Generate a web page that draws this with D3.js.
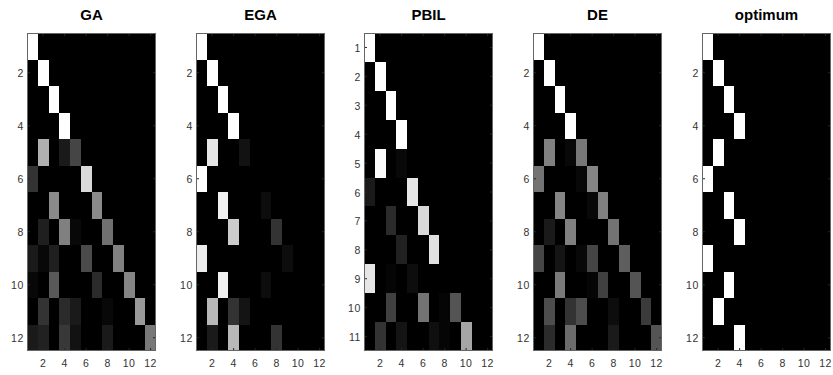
<!DOCTYPE html>
<html><head><meta charset="utf-8">
<script src="https://cdn.jsdelivr.net/npm/d3@7"></script>
<style>body{margin:0;background:#fff}svg{display:block}</style>
</head><body>
<script>
const titles = ["GA", "EGA", "PBIL", "DE", "optimum"];
const xTicks = [2, 4, 6, 8, 10, 12];
const yTicks12 = [2, 4, 6, 8, 10, 12];
const yTicks11 = [1, 2, 3, 4, 5, 6, 7, 8, 9, 10, 11];

const gaValues = [
  [1,0,0,0,0,0,0,0,0,0,0,0],
  [0,1,0,0,0,0,0,0,0,0,0,0],
  [0,0,1,0,0,0,0,0,0,0,0,0],
  [0,0,0,1,0,0,0,0,0,0,0,0],
  [0,0.69,0,0.1,0.27,0,0,0,0,0,0,0],
  [0.2,0,0,0,0,0.85,0,0,0,0,0,0],
  [0,0,0.54,0,0,0,0.54,0,0,0,0,0],
  [0,0.12,0,0.5,0.03,0,0,0.44,0,0,0,0],
  [0.1,0.03,0.12,0,0,0.29,0,0,0.5,0,0,0],
  [0.03,0,0.35,0,0,0,0.17,0,0,0.52,0,0],
  [0,0.2,0,0.17,0.1,0,0,0.03,0,0,0.6,0],
  [0.1,0.13,0,0.22,0.07,0,0,0.1,0,0,0,0.47]
];
const egaValues = [
  [1,0,0,0,0,0,0,0,0,0,0,0],
  [0,1,0,0,0,0,0,0,0,0,0,0],
  [0,0,1,0,0,0,0,0,0,0,0,0],
  [0,0,0,1,0,0,0,0,0,0,0,0],
  [0,0.9,0,0,0.07,0,0,0,0,0,0,0],
  [1,0,0,0,0,0,0,0,0,0,0,0],
  [0,0,0.94,0,0,0,0.05,0,0,0,0,0],
  [0,0,0,0.8,0,0,0,0.2,0,0,0,0],
  [0.93,0,0,0,0,0,0,0,0.05,0,0,0],
  [0,0,0.94,0,0,0,0.05,0,0,0,0,0],
  [0,0.72,0,0.2,0.08,0,0,0,0,0,0,0],
  [0,0.1,0,0.72,0,0,0,0.2,0,0,0,0]
];
const pbilValues = [
  [1,0,0,0,0,0,0,0,0,0,0,0],
  [0,1,0,0,0,0,0,0,0,0,0,0],
  [0,0,1,0,0,0,0,0,0,0,0,0],
  [0,0,0,1,0,0,0,0,0,0,0,0],
  [0,0.98,0,0.03,0,0,0,0,0,0,0,0],
  [0.1,0,0,0,0.9,0,0,0,0,0,0,0],
  [0,0,0.17,0,0,0.85,0,0,0,0,0,0],
  [0,0,0,0.13,0,0,0.88,0,0,0,0,0],
  [0.9,0,0.02,0,0.05,0,0,0,0,0,0,0],
  [0,0,0.25,0,0,0.45,0,0.02,0.33,0,0,0],
  [0,0.2,0,0.08,0,0,0.06,0.02,0,0.65,0,0]
];
const deValues = [
  [1,0,0,0,0,0,0,0,0,0,0,0],
  [0,1,0,0,0,0,0,0,0,0,0,0],
  [0,0,1,0,0,0,0,0,0,0,0,0],
  [0,0,0,1,0,0,0,0,0,0,0,0],
  [0,0.5,0,0.03,0.47,0,0,0,0,0,0,0],
  [0.45,0,0,0,0.03,0.52,0,0,0,0,0,0],
  [0,0,0.52,0,0,0.03,0.5,0,0,0,0,0],
  [0,0.1,0,0.5,0,0,0,0.45,0,0,0,0],
  [0.27,0,0.08,0,0.03,0.27,0,0,0.37,0,0,0],
  [0,0,0.48,0,0,0.02,0.25,0,0,0.33,0,0],
  [0,0.3,0,0.2,0.3,0,0,0.05,0,0,0.23,0],
  [0,0.17,0,0.42,0,0,0,0.1,0,0,0,0.33]
];
const optimumValues = [
  [1,0,0,0,0,0,0,0,0,0,0,0],
  [0,1,0,0,0,0,0,0,0,0,0,0],
  [0,0,1,0,0,0,0,0,0,0,0,0],
  [0,0,0,1,0,0,0,0,0,0,0,0],
  [0,1,0,0,0,0,0,0,0,0,0,0],
  [1,0,0,0,0,0,0,0,0,0,0,0],
  [0,0,1,0,0,0,0,0,0,0,0,0],
  [0,0,0,1,0,0,0,0,0,0,0,0],
  [1,0,0,0,0,0,0,0,0,0,0,0],
  [0,0,1,0,0,0,0,0,0,0,0,0],
  [0,1,0,0,0,0,0,0,0,0,0,0],
  [0,0,0,1,0,0,0,0,0,0,0,0]
];

const matrices = [gaValues, egaValues, pbilValues, deValues, optimumValues];
const yTickSets = [yTicks12, yTicks12, yTicks11, yTicks12, yTicks12];

const W = 833, H = 375;
const svg = d3.select("body").append("svg").attr("width", W).attr("height", H);
const lefts = [27, 196, 364, 533, 702];
const pw = 129, plotTop = 33, plotBottom = 351;
const gray = d3.scaleLinear().domain([0, 1]).range(["#000000", "#ffffff"]).interpolate(d3.interpolateRgb);
const tickColor = "#262626";
const fontFam = "'Liberation Sans', Arial, Helvetica, sans-serif";

matrices.forEach((mat, i) => {
  const nRows = mat.length, nCols = mat[0].length;
  const x = d3.scaleBand().domain(d3.range(1, nCols + 1)).range([lefts[i], lefts[i] + pw]);
  const y = d3.scaleBand().domain(d3.range(1, nRows + 1)).range([plotTop, plotBottom]);
  const g = svg.append("g");
  const cells = [];
  mat.forEach((row, r) => row.forEach((v, c) => cells.push({r: r + 1, c: c + 1, v})));
  g.selectAll("rect.cell").data(cells).join("rect")
    .attr("class", "cell")
    .attr("x", d => x(d.c)).attr("y", d => y(d.r))
    .attr("width", x.bandwidth() + 0.3).attr("height", y.bandwidth() + 0.3)
    .attr("fill", d => gray(d.v))
    .attr("shape-rendering", "crispEdges");

  const xc = v => x(v) + x.bandwidth() / 2;
  const yc = v => y(v) + y.bandwidth() / 2;
  const tl = 3;
  xTicks.forEach(t => {
    g.append("line").attr("x1", xc(t)).attr("x2", xc(t)).attr("y1", plotBottom).attr("y2", plotBottom - tl).attr("stroke", tickColor);
    g.append("line").attr("x1", xc(t)).attr("x2", xc(t)).attr("y1", plotTop).attr("y2", plotTop + tl).attr("stroke", tickColor);
    g.append("text").attr("x", xc(t)).attr("y", plotBottom + 15.5).attr("text-anchor", "middle")
      .attr("font-family", fontFam).attr("font-size", 10.5).attr("letter-spacing", 0.6).attr("fill", "#333").text(t);
  });
  yTickSets[i].forEach(t => {
    g.append("line").attr("x1", lefts[i]).attr("x2", lefts[i] + tl).attr("y1", yc(t)).attr("y2", yc(t)).attr("stroke", tickColor);
    g.append("line").attr("x1", lefts[i] + pw).attr("x2", lefts[i] + pw - tl).attr("y1", yc(t)).attr("y2", yc(t)).attr("stroke", tickColor);
    g.append("text").attr("x", lefts[i] - 3).attr("y", yc(t) + 4.5).attr("text-anchor", "end")
      .attr("font-family", fontFam).attr("font-size", 10.5).attr("letter-spacing", 0.6).attr("fill", "#333").text(t);
  });
  g.append("rect").attr("x", lefts[i] + 0.5).attr("y", plotTop + 0.5).attr("width", pw - 1).attr("height", plotBottom - plotTop - 1)
    .attr("fill", "none").attr("stroke", "#666");
  g.append("text").attr("x", lefts[i] + pw / 2).attr("y", 20).attr("text-anchor", "middle")
    .attr("font-family", fontFam).attr("font-weight", "bold").attr("font-size", 15).attr("fill", "#000").text(titles[i]);
});
</script>
</body></html>
